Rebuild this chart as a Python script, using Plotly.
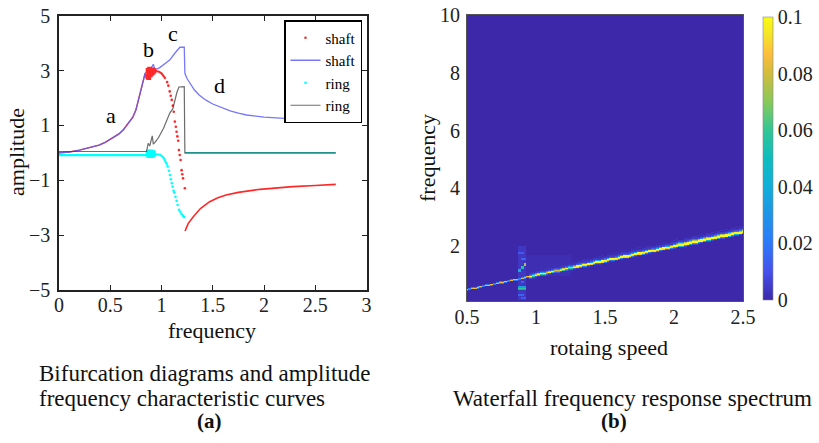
import numpy as np
import plotly.graph_objects as go

# ---------------- Panel (a) data ----------------
shaft_line_x = [0, 0.1, 0.2, 0.3, 0.39, 0.45, 0.49, 0.55, 0.585, 0.63, 0.68, 0.72, 0.75, 0.77, 0.79,
                0.815, 0.84, 0.87, 0.89, 0.905, 0.92, 0.935, 0.95, 0.98, 1.02, 1.08, 1.13, 1.16, 1.18,
                1.222, 1.228, 1.25, 1.277, 1.32, 1.37, 1.43, 1.5, 1.58, 1.67, 1.75, 1.83, 2.0, 2.15,
                2.3, 2.48, 2.7]
shaft_line_y = [0.0, 0.03, 0.1, 0.18, 0.28, 0.38, 0.47, 0.6, 0.69, 0.85, 1.08, 1.3, 1.56, 1.85, 2.17,
                2.55, 2.9, 3.02, 3.05, 3.12, 3.23, 3.05, 3.05, 3.1, 3.2, 3.38, 3.63, 3.78, 3.85,
                3.85, 2.9, 2.7, 2.53, 2.3, 2.1, 1.93, 1.78, 1.65, 1.53, 1.45, 1.38, 1.3, 1.26,
                1.22, 1.19, 1.16]

shaft_up_x = [0, 0.1, 0.2, 0.3, 0.39, 0.45, 0.49, 0.55, 0.585, 0.63, 0.68, 0.72, 0.75, 0.77, 0.79, 0.815, 0.84]
shaft_up_y = [0.0, 0.03, 0.1, 0.18, 0.28, 0.38, 0.47, 0.6, 0.69, 0.85, 1.08, 1.3, 1.56, 1.85, 2.17, 2.55, 2.9]
shaft_cluster_x = [0.865, 0.87, 0.875, 0.88, 0.885, 0.89, 0.895, 0.9, 0.905, 0.91, 0.915, 0.92, 0.925]
shaft_cluster_y = [2.8, 3.0, 2.75, 2.95, 3.05, 2.85, 2.95, 3.0, 2.9, 3.02, 2.95, 3.0, 2.98]
shaft_arc_x = [0.925, 0.95, 0.975, 1.0, 1.02, 1.04]
shaft_arc_y = [3.0, 2.99, 2.96, 2.9, 2.82, 2.7]
shaft_dot_x = [1.055, 1.067, 1.08, 1.09, 1.1, 1.11, 1.12, 1.13, 1.14, 1.147, 1.155, 1.163, 1.17,
               1.178, 1.186, 1.196, 1.203, 1.21, 1.228]
shaft_dot_y = [2.58, 2.45, 2.24, 2.08, 1.93, 1.72, 1.5, 1.14, 0.95, 0.77, 0.6, 0.44, 0.1,
               -0.08, -0.26, -0.63, -0.78, -0.93, -1.29]
shaft_low_x = [1.23, 1.26, 1.31, 1.38, 1.47, 1.55, 1.63, 1.75, 1.96, 2.1, 2.28, 2.5, 2.7]
shaft_low_y = [-2.85, -2.58, -2.33, -2.03, -1.78, -1.64, -1.54, -1.44, -1.33, -1.28, -1.23, -1.19, -1.15]

ring_base_x = [0, 0.5, 0.87]
ring_base_y = [-0.08, -0.08, -0.08]
ring_cluster_x = [0.87, 0.875, 0.88, 0.885, 0.89, 0.895, 0.9, 0.905, 0.91, 0.915, 0.92]
ring_cluster_y = [-0.05, 0.02, -0.1, 0.0, -0.07, 0.03, -0.04, -0.1, 0.01, -0.06, -0.02]
ring_arc_x = [0.92, 0.95, 0.984, 1.017, 1.043, 1.056]
ring_arc_y = [-0.04, -0.05, -0.07, -0.16, -0.32, -0.44]
ring_dot_x = [1.06, 1.072, 1.082, 1.092, 1.101, 1.108, 1.118, 1.124, 1.137, 1.147, 1.157, 1.173, 1.185, 1.196,
              1.21, 1.221]
ring_dot_y = [-0.5, -0.65, -0.81, -0.96, -1.11, -1.23, -1.38, -1.45, -1.6, -1.75, -1.9, -2.08, -2.16, -2.23,
              -2.29, -2.34]
ring_high_x = [1.228, 2.7]
ring_high_y = [0.0, 0.0]

ring_line_x = [0, 0.854, 0.87, 0.885, 0.91, 0.92, 0.94, 0.97, 1.02, 1.08, 1.11, 1.13, 1.15, 1.17,
               1.222, 1.228, 2.7]
ring_line_y = [0.05, 0.05, 0.35, 0.25, 0.62, 0.32, 0.4, 0.55, 0.9, 1.44, 1.6, 1.93, 2.2, 2.4,
               2.41, 0.0, 0.0]

label_text = ["a", "b", "c", "d"]
label_x = [0.51, 0.87, 1.11, 1.57]
label_y = [1.38, 3.77, 4.36, 2.47]

# ---------------- Panel (b) data ----------------
harmonic_order = 1.0                     # ridge follows the 1X line
ridge_seg_start = [0.5, 0.95, 1.3, 2.0]  # speed where each ridge segment starts
ridge_seg_peak = [0.085, 0.1, 0.1, 0.1]
ridge_offsets = [-0.075, -0.05, -0.025, 0.0, 0.025, 0.05, 0.075, 0.1, 0.125, 0.15, 0.2]
ridge_weights = [
    [0.0, 0.0, 0.25, 1.0, 0.25, 0.0, 0.0, 0.0, 0.0, 0.0, 0.0],
    [0.03, 0.12, 0.6, 1.0, 0.8, 0.3, 0.08, 0.04, 0.03, 0.02, 0.015],
    [0.04, 0.2, 0.9, 1.0, 1.0, 0.4, 0.12, 0.05, 0.04, 0.03, 0.02],
    [0.08, 0.4, 1.0, 1.0, 1.0, 0.75, 0.25, 0.08, 0.05, 0.04, 0.03],
]
# rectangular patches: speed_lo, speed_hi, freq_lo, freq_hi, value
patch_s0 = [0.93, 0.865, 0.87, 0.89, 0.91, 0.87, 0.88, 0.88, 0.9, 0.88, 0.9, 0.89]
patch_s1 = [1.25, 0.935, 0.89, 0.91, 0.93, 0.93, 0.92, 0.9, 0.92, 0.9, 0.92, 0.91]
patch_f0 = [1.0, 0.15, 1.12, 1.22, 1.32, 0.5, 0.53, 1.75, 1.55, 0.3, 0.2, 0.75]
patch_f1 = [1.7, 2.0, 1.2, 1.3, 1.4, 0.6, 0.57, 1.82, 1.6, 0.35, 0.25, 0.8]
patch_v = [0.0015, 0.004, 0.04, 0.055, 0.075, 0.035, 0.06, 0.012, 0.015, 0.015, 0.012, 0.015]

cb_ticks = [0, 0.02, 0.04, 0.06, 0.08, 0.1]
cb_text = ["0", "0.02", "0.04", "0.06", "0.08", "0.1"]

# ---------------- build heatmap grid ----------------
speeds = np.round(np.arange(0.5, 2.5001, 0.02), 4)
freqs = np.round(np.arange(0.1, 10.0001, 0.025), 4)
z = np.zeros((len(freqs), len(speeds)))
for j, s in enumerate(speeds):
    seg = max(i for i, st in enumerate(ridge_seg_start) if s >= st - 1e-9)
    fc = harmonic_order * s
    for off, w in zip(ridge_offsets, ridge_weights[seg]):
        r = int(round((fc + off - freqs[0]) / 0.025))
        if 0 <= r < len(freqs):
            z[r, j] = max(z[r, j], ridge_seg_peak[seg] * w)
for s0, s1, f0, f1, v in zip(patch_s0, patch_s1, patch_f0, patch_f1, patch_v):
    cm = (speeds >= s0 - 1e-9) & (speeds <= s1 + 1e-9)
    rm = (freqs >= f0 - 1e-9) & (freqs <= f1 + 1e-9)
    sub = z[np.ix_(rm, cm)]
    z[np.ix_(rm, cm)] = np.maximum(sub, v)

parula = [
    [0.0, "rgb(60,40,168)"], [0.1, "rgb(70,80,236)"], [0.2, "rgb(44,121,250)"],
    [0.3, "rgb(31,148,232)"], [0.4, "rgb(17,174,218)"], [0.5, "rgb(14,188,190)"],
    [0.6, "rgb(50,198,150)"], [0.7, "rgb(135,201,90)"], [0.8, "rgb(210,188,60)"],
    [0.87, "rgb(253,190,60)"], [0.93, "rgb(245,225,40)"], [1.0, "rgb(249,251,20)"],
]

FONT = "'Liberation Serif', 'Times New Roman', Times, serif"
W, H = 819, 443


def px(x):
    return x / W


def py(y):
    return 1 - y / H


fig = go.Figure()

RED = "rgb(255,40,40)"
BLUE = "rgb(95,95,255)"
CYAN = "rgb(0,255,255)"
GREY = "rgb(60,60,60)"

fig.add_trace(go.Scatter(x=shaft_up_x, y=shaft_up_y, mode="lines", line=dict(color=RED, width=1.4),
                         showlegend=False, xaxis="x", yaxis="y"))
fig.add_trace(go.Scatter(x=ring_base_x, y=ring_base_y, mode="lines", line=dict(color=CYAN, width=2.2),
                         showlegend=False, xaxis="x", yaxis="y"))
fig.add_trace(go.Scatter(x=ring_high_x, y=ring_high_y, mode="lines", line=dict(color=CYAN, width=1.6),
                         showlegend=False, xaxis="x", yaxis="y"))
fig.add_trace(go.Scatter(x=shaft_line_x, y=shaft_line_y, mode="lines", name="shaft",
                         line=dict(color=BLUE, width=1.3), opacity=0.85, legendrank=2,
                         xaxis="x", yaxis="y"))
fig.add_trace(go.Scatter(x=shaft_arc_x, y=shaft_arc_y, mode="lines", line=dict(color=RED, width=2),
                         showlegend=False, xaxis="x", yaxis="y"))
fig.add_trace(go.Scatter(x=shaft_low_x, y=shaft_low_y, mode="lines", line=dict(color=RED, width=1.6),
                         showlegend=False, xaxis="x", yaxis="y"))
fig.add_trace(go.Scatter(x=shaft_dot_x, y=shaft_dot_y, mode="markers", name="shaft",
                         marker=dict(color=RED, size=2.6), legendrank=1, xaxis="x", yaxis="y"))
fig.add_trace(go.Scatter(x=shaft_cluster_x, y=shaft_cluster_y, mode="markers",
                         marker=dict(color=RED, size=5, symbol="square"),
                         showlegend=False, xaxis="x", yaxis="y"))
fig.add_trace(go.Scatter(x=ring_arc_x, y=ring_arc_y, mode="lines", line=dict(color=CYAN, width=2),
                         showlegend=False, xaxis="x", yaxis="y"))
fig.add_trace(go.Scatter(x=ring_dot_x, y=ring_dot_y, mode="markers", name="ring",
                         marker=dict(color=CYAN, size=2.6), legendrank=3, xaxis="x", yaxis="y"))
fig.add_trace(go.Scatter(x=ring_cluster_x, y=ring_cluster_y, mode="markers",
                         marker=dict(color=CYAN, size=5, symbol="square"),
                         showlegend=False, xaxis="x", yaxis="y"))
fig.add_trace(go.Scatter(x=ring_line_x, y=ring_line_y, mode="lines", name="ring",
                         line=dict(color=GREY, width=1.2), opacity=0.75, legendrank=4,
                         xaxis="x", yaxis="y"))

fig.add_trace(go.Heatmap(x=speeds, y=freqs, z=z, zmin=0, zmax=0.1, colorscale=parula,
                         xaxis="x2", yaxis="y2", showlegend=False,
                         colorbar=dict(x=px(763), xanchor="left", y=py(158.5), yanchor="middle",
                                       len=(300 - 17) / H, lenmode="fraction", thickness=10,
                                       xpad=0, ypad=0,
                                       outlinewidth=0.6, outlinecolor="#888",
                                       tickvals=cb_ticks, ticktext=cb_text, ticks="",
                                       tickfont=dict(family=FONT, size=20, color="#222"))))

for t, xx, yy in zip(label_text, label_x, label_y):
    fig.add_annotation(x=xx, y=yy, xref="x", yref="y", text=t, showarrow=False,
                       font=dict(family=FONT, size=22, color="black"))

axis_common = dict(showgrid=False, zeroline=False, showline=True, mirror="ticks", ticks="inside",
                   ticklen=5, tickwidth=1.2, tickcolor="#222", linecolor="#222", linewidth=1.6,
                   tickfont=dict(family=FONT, size=20, color="#222"))

fig.update_layout(
    width=W, height=H, margin=dict(l=0, r=0, t=0, b=0, autoexpand=False),
    paper_bgcolor="white", plot_bgcolor="white",
    font=dict(family=FONT),
    xaxis=dict(domain=[px(59), px(366.5)], range=[0, 3], tickvals=[0, 0.5, 1, 1.5, 2, 2.5, 3],
               ticktext=["0", "0.5", "1", "1.5", "2", "2.5", "3"], anchor="y", ticklabelstandoff=-4,
               **axis_common),
    yaxis=dict(domain=[py(290), py(15.7)], range=[-5, 5], tickvals=[-5, -3, -1, 1, 3, 5],
               anchor="x", ticklabelstandoff=3, **axis_common),
    xaxis2=dict(domain=[px(467), px(743)], range=[0.5, 2.5], tickvals=[0.5, 1, 1.5, 2, 2.5],
                ticktext=["0.5", "1", "1.5", "2", "2.5"], anchor="y2", showgrid=False, zeroline=False,
                showline=True, mirror=True, linecolor="#555", linewidth=1, ticks="",
                ticklabelstandoff=-2, tickfont=dict(family=FONT, size=20, color="#222")),
    yaxis2=dict(domain=[py(301), py(15)], range=[0.1, 10], tickvals=[2, 4, 6, 8, 10], anchor="x2",
                showgrid=False, zeroline=False, showline=True, mirror=True, linecolor="#555",
                linewidth=1, ticks="", ticklabelstandoff=2,
                tickfont=dict(family=FONT, size=20, color="#222")),
    legend=dict(x=px(362), xanchor="right", y=py(20), yanchor="top", bgcolor="white",
                bordercolor="black", borderwidth=1.5, font=dict(family=FONT, size=15, color="black"),
                itemwidth=30, tracegroupgap=0),
    showlegend=True,
)

texts = [
    ("frequency", 212, 330, 22, 0, "center"),
    ("amplitude", 16, 152, 22, -90, "center"),
    ("frequency", 427, 158, 22, -90, "center"),
    ("rotaing speed", 609, 347, 22, 0, "center"),
    ("Bifurcation diagrams and amplitude", 37, 373, 23, 0, "left"),
    ("frequency characteristic curves", 37, 398, 23, 0, "left"),
    ("Waterfall frequency response spectrum", 632, 398, 23, 0, "center"),
    ("<b>(a)</b>", 210, 421, 21, 0, "center"),
    ("<b>(b)</b>", 614, 421, 21, 0, "center"),
]
for t, x, y, s, ang, anc in texts:
    fig.add_annotation(x=px(x), y=py(y), xref="paper", yref="paper", text=t, showarrow=False,
                       textangle=ang, xanchor=anc, yanchor="middle",
                       font=dict(family=FONT, size=s, color="#111"))

fig.write_html("out.html")
